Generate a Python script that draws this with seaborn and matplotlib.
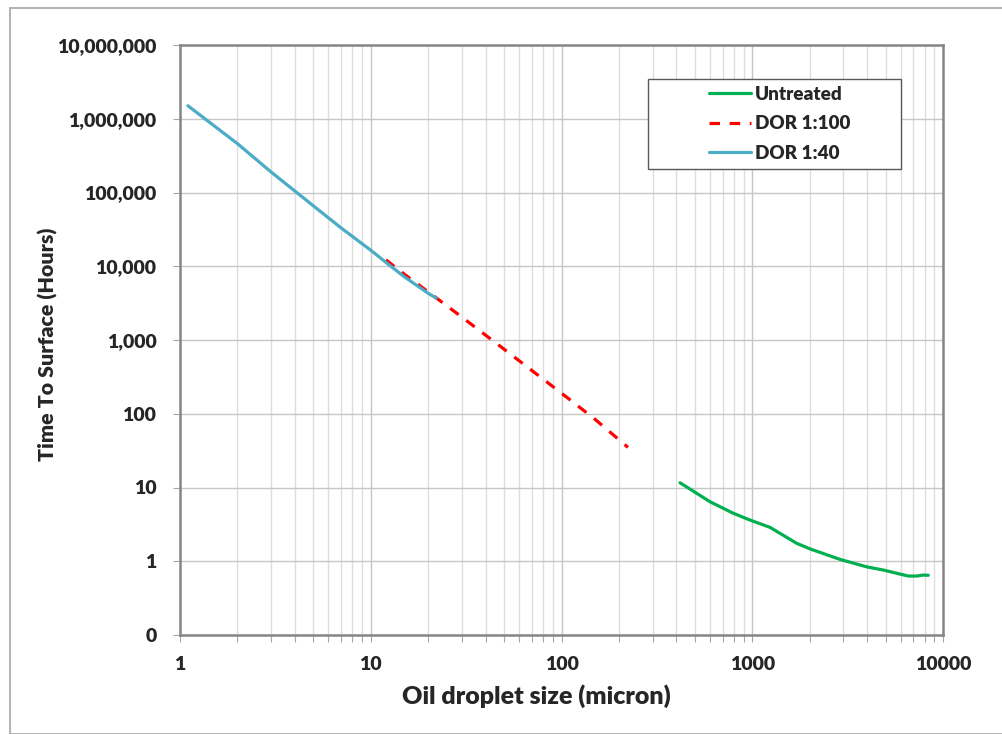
import numpy as np
import pandas as pd
import seaborn as sns
import matplotlib.pyplot as plt
from matplotlib.patches import Rectangle
from matplotlib.ticker import FixedLocator, FuncFormatter, LogLocator, NullFormatter

# droplet size (micron) vs time to surface (hours)
untreated_size = [418, 601, 796, 973, 1239, 1710, 2009, 2884, 3980, 4865, 6580, 7265, 7890, 8375]
untreated_time = [11.6, 6.4, 4.47, 3.62, 2.88, 1.75, 1.47, 1.06, 0.84, 0.76, 0.63, 0.63, 0.65, 0.645]

dor100_size = [12, 15, 20, 30, 50, 100, 150, 223]
dor100_time = [12200, 7800, 4500, 2050, 750, 190, 84, 35]

dor40_size = [1.1, 2, 3, 5, 7, 10, 12, 15, 20, 22]
dor40_time = [1.5e6, 4.6e5, 1.9e5, 6.6e4, 3.3e4, 1.65e4, 1.13e4, 7.2e3, 4.3e3, 3.7e3]

y_ticks = [0.1, 1, 10, 100, 1000, 1e4, 1e5, 1e6, 1e7]
x_ticks = [1, 10, 100, 1000, 10000]

sns.set_style("white")
plt.rcParams['font.family'] = ['Lato', 'DejaVu Sans']
plt.rcParams['font.weight'] = 'heavy'
W = 'heavy'

fig = plt.figure(figsize=(10.02, 7.34), dpi=100)
ax = fig.add_axes([180/1002, 1-635/734, 763/1002, 590/734])

# outer frame of the picture
fig.patches.append(Rectangle((10/1002, 0), 1.0, 1-8/734, transform=fig.transFigure,
                             fill=False, edgecolor='#A6A6A6', lw=1.2))

sns.lineplot(x=untreated_size, y=untreated_time, ax=ax, color='#00B050', lw=2.3,
             estimator=None, label='Untreated')
sns.lineplot(x=dor100_size, y=dor100_time, ax=ax, color='#FF0000', lw=2.3,
             estimator=None, label='DOR 1:100')
sns.lineplot(x=dor40_size, y=dor40_time, ax=ax, color='#4BACC6', lw=2.3,
             estimator=None, label='DOR 1:40')
ax.lines[1].set_dashes((3.3, 3.0))

ax.set_xscale('log')
ax.set_yscale('log')
ax.set_xlim(1, 10000)
ax.set_ylim(0.1, 1e7)

ax.yaxis.set_major_locator(FixedLocator(y_ticks))
ax.yaxis.set_minor_locator(FixedLocator([]))
ax.yaxis.set_major_formatter(FuncFormatter(lambda v, p: '0' if v < 0.5 else f'{v:,.0f}'))
ax.xaxis.set_major_locator(FixedLocator(x_ticks))
ax.xaxis.set_minor_locator(LogLocator(base=10, subs=np.arange(2, 10), numticks=20))
ax.xaxis.set_major_formatter(FuncFormatter(lambda v, p: f'{v:.0f}'))
ax.xaxis.set_minor_formatter(NullFormatter())

ax.grid(which='major', color='#C6C6C6', lw=1.0)
ax.grid(which='minor', axis='x', color='#DEDEDE', lw=1.0)
ax.set_axisbelow(True)

for s in ax.spines.values():
    s.set_color('#868686')
    s.set_linewidth(1.8)
    s.set_visible(True)

ax.tick_params(axis='y', which='major', direction='out', length=5, width=0.8,
               color='#A6A6A6', pad=12, labelsize=14)
ax.tick_params(axis='x', which='both', direction='out', length=5, width=0.8,
               color='#A6A6A6', pad=10, labelsize=14, bottom=True)
ax.tick_params(axis='y', left=True)
for lab in ax.get_xticklabels() + ax.get_yticklabels():
    lab.set_fontweight(W)

ax.set_xlabel('Oil droplet size (micron)', fontsize=18, fontweight=W)
ax.set_ylabel('Time To Surface (Hours)', fontsize=15.4, fontweight=W)
ax.xaxis.set_label_coords((536-180)/763, -(684-635)/590)
ax.yaxis.set_label_coords((58-180)/763, (635-344)/590)

# legend: box drawn separately so it keeps Excel-style padding
leg = ax.legend(loc='upper left', bbox_to_anchor=((709-180)/763, (635-86)/590),
                frameon=False, handlelength=2.2, handletextpad=0.25,
                labelspacing=0.66, borderpad=0, borderaxespad=0,
                prop={'weight': W, 'size': 13.6})
ax.add_patch(Rectangle(((648-180)/763, (635-169)/590), (901-648)/763, 90/590,
                       transform=ax.transAxes, fill=True, facecolor='white',
                       edgecolor='#595959', lw=1.0, zorder=4))
leg.set_zorder(5)

fig.savefig('out.png', dpi=100)
